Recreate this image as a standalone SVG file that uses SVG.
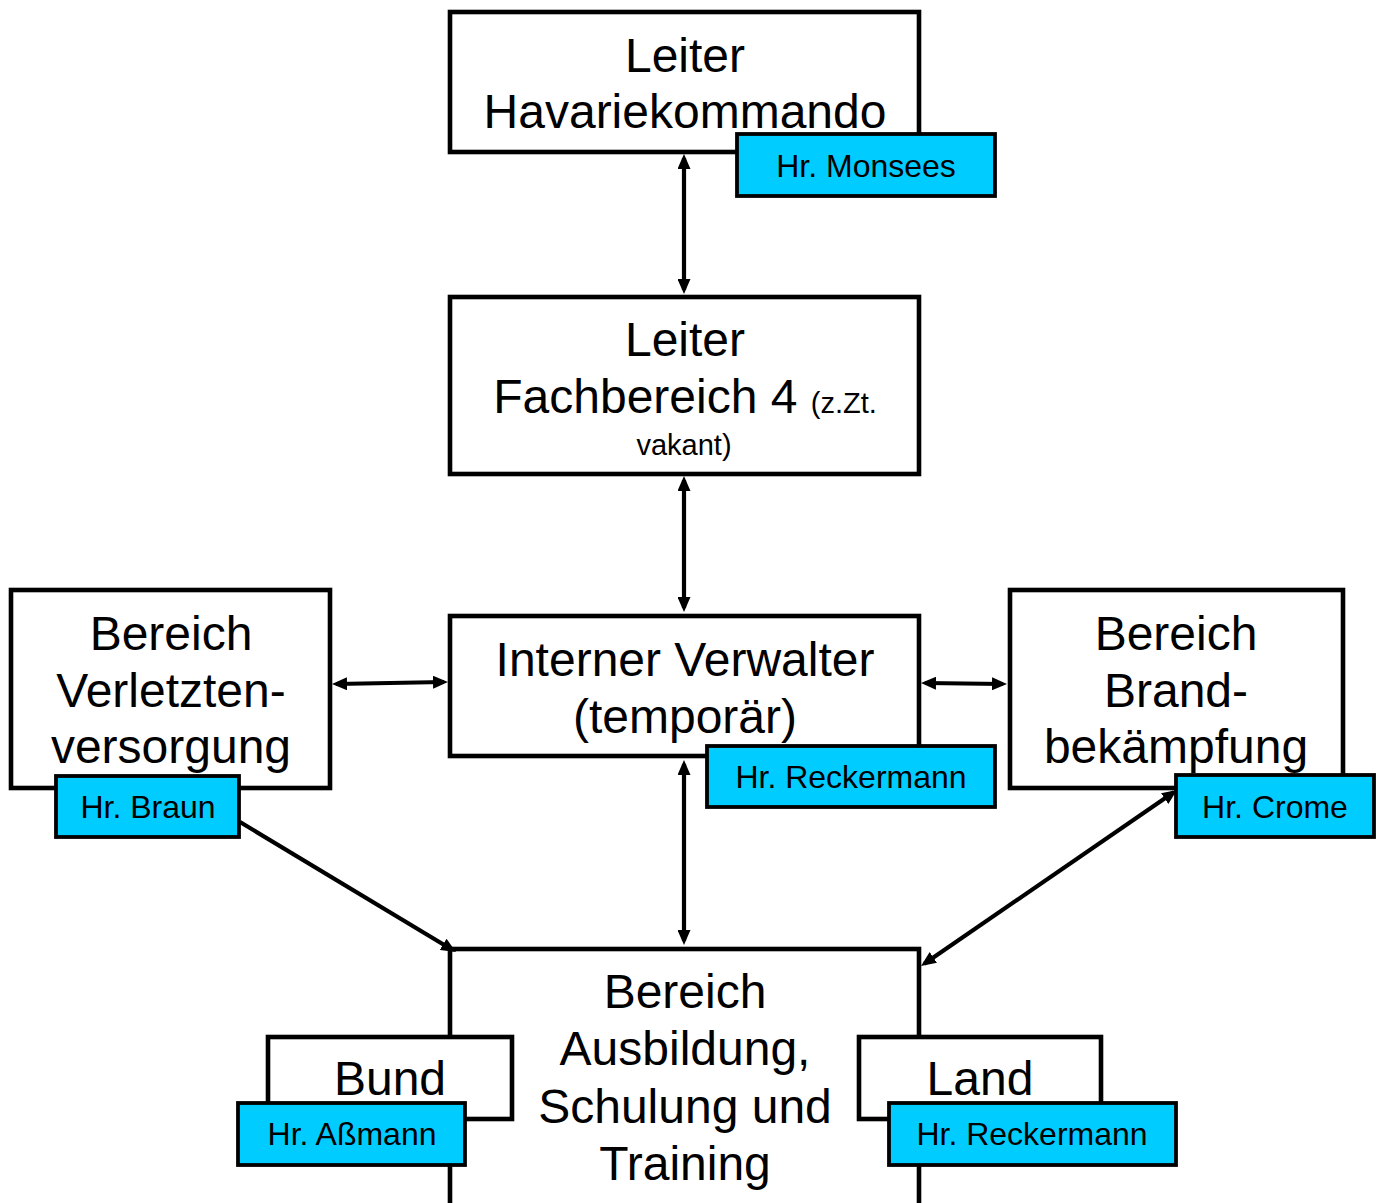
<svg xmlns="http://www.w3.org/2000/svg" width="1378" height="1203" viewBox="0 0 1378 1203">
<style>
.box{fill:#ffffff;stroke:#000000;stroke-width:4.6}
.tag{fill:#00CCFF;stroke:#000000;stroke-width:3.8}
.t{font-family:"Liberation Sans",Arial,sans-serif;font-size:48px;fill:#000;text-anchor:middle}
.s{font-family:"Liberation Sans",Arial,sans-serif;font-size:32px;fill:#000;text-anchor:middle}
.c{fill:none;stroke:#000;stroke-width:4.2;marker-end:url(#ah)}
.d{marker-start:url(#ah)}
</style>
<defs>
<marker id="ah" viewBox="0 0 15 13" refX="11" refY="6.5" markerWidth="15" markerHeight="13" markerUnits="userSpaceOnUse" orient="auto-start-reverse">
<path d="M0,0 L15,6.5 L0,13 z" fill="#000"/>
</marker>
</defs>
<rect x="0" y="0" width="1378" height="1203" fill="#ffffff"/>

<g id="n-havarie">
<rect class="box" x="450" y="12" width="469" height="140"/>
<text class="t" x="685" y="72">Leiter</text>
<text class="t" x="685" y="128">Havariekommando</text>
</g>
<g id="n-fb4">
<rect class="box" x="450" y="297" width="469" height="177"/>
<text class="t" x="685" y="356">Leiter</text>
<text class="t" x="685" y="413">Fachbereich 4 <tspan style="font-size:29px">(z.Zt.</tspan></text>
<text class="t" x="684" y="455" style="font-size:29px">vakant)</text>
</g>
<g id="n-verwalter">
<rect class="box" x="450" y="616" width="469" height="140"/>
<text class="t" x="685" y="676">Interner Verwalter</text>
<text class="t" x="685" y="733">(temporär)</text>
</g>
<g id="n-verletzten">
<rect class="box" x="11" y="590" width="319" height="198"/>
<text class="t" x="171" y="650">Bereich</text>
<text class="t" x="171" y="707">Verletzten-</text>
<text class="t" x="171" y="763">versorgung</text>
</g>
<g id="n-brand">
<rect class="box" x="1010" y="590" width="333" height="198"/>
<text class="t" x="1176" y="650">Bereich</text>
<text class="t" x="1176" y="707">Brand-</text>
<text class="t" x="1176" y="763">bekämpfung</text>
</g>
<g id="n-ausbildung">
<rect class="box" x="450" y="949" width="469" height="270"/>
<text class="t" x="685" y="1008">Bereich</text>
<text class="t" x="685" y="1065">Ausbildung,</text>
<text class="t" x="685" y="1123">Schulung und</text>
<text class="t" x="685" y="1180">Training</text>
</g>
<g id="n-bund">
<rect class="box" x="268" y="1037" width="244" height="82"/>
<text class="t" x="390" y="1095">Bund</text>
</g>
<g id="n-land">
<rect class="box" x="859" y="1037" width="242" height="82"/>
<text class="t" x="980" y="1095">Land</text>
</g>

<g id="connectors">
<line class="c d" x1="684" y1="158" x2="684" y2="290"/>
<line class="c d" x1="684" y1="480" x2="684" y2="608"/>
<line class="c d" x1="684" y1="764" x2="684" y2="941"/>
<line class="c d" x1="336" y1="684" x2="444" y2="682"/>
<line class="c d" x1="925" y1="683" x2="1003" y2="684"/>
<line class="c" x1="240" y1="822" x2="452.6" y2="950"/>
<line class="c d" x1="924.3" y1="963.7" x2="1173.7" y2="792.3"/>
</g>

<g id="tag-monsees">
<rect class="tag" x="737" y="134" width="258" height="62"/>
<text class="s" x="866" y="177">Hr. Monsees</text>
</g>
<g id="tag-reckermann1">
<rect class="tag" x="707" y="746" width="288" height="61"/>
<text class="s" x="851" y="788">Hr. Reckermann</text>
</g>
<g id="tag-braun">
<rect class="tag" x="56" y="776" width="183" height="61"/>
<text class="s" x="148" y="818">Hr. Braun</text>
</g>
<g id="tag-crome">
<rect class="tag" x="1176" y="775" width="198" height="62"/>
<text class="s" x="1275" y="818">Hr. Crome</text>
</g>
<g id="tag-assmann">
<rect class="tag" x="238" y="1103" width="227" height="62"/>
<text class="s" x="352" y="1145">Hr. Aßmann</text>
</g>
<g id="tag-reckermann2">
<rect class="tag" x="889" y="1103" width="287" height="62"/>
<text class="s" x="1032" y="1145">Hr. Reckermann</text>
</g>
</svg>
